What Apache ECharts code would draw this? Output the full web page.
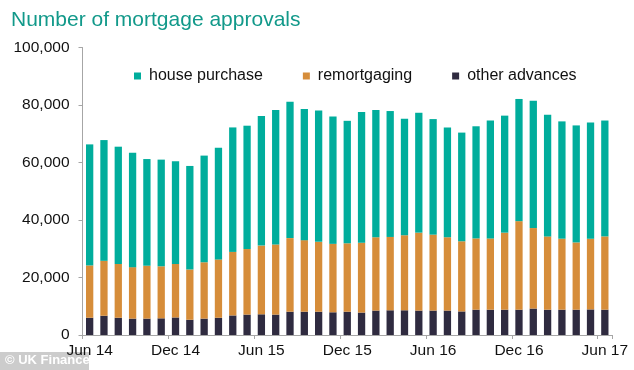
<!DOCTYPE html>
<html><head><meta charset="utf-8">
<script src="https://cdn.jsdelivr.net/npm/echarts@6/dist/echarts.min.js"></script>
<style>html,body{margin:0;padding:0;background:#fff}#c{width:634px;height:370px}</style>
</head><body><div id="c"></div>
<script>
var months = ['Jun 14','Jul 14','Aug 14','Sep 14','Oct 14','Nov 14','Dec 14','Jan 15','Feb 15','Mar 15','Apr 15','May 15',
 'Jun 15','Jul 15','Aug 15','Sep 15','Oct 15','Nov 15','Dec 15','Jan 16','Feb 16','Mar 16','Apr 16','May 16',
 'Jun 16','Jul 16','Aug 16','Sep 16','Oct 16','Nov 16','Dec 16','Jan 17','Feb 17','Mar 17','Apr 17','May 17','Jun 17'];
var otherAdvances = [6000,6700,6000,5700,5700,5800,6100,5300,5700,6000,6800,7100,7200,7100,8100,8100,8100,7900,8100,7800,8500,8600,8600,8500,8500,8500,8200,8800,8800,8800,8800,9200,8800,8800,8800,8900,8800];
var remortgaging = [18200,19100,18700,17900,18400,18100,18600,17500,19600,20300,22100,22800,23900,24400,25600,24900,24300,23800,23800,24300,25500,25500,26100,27100,26400,25500,24400,24800,24800,26800,30800,28000,25500,24700,23400,24600,25500];
var housePurchase = [42100,42000,40800,39800,37100,37100,35700,36000,37100,38800,43300,42900,45100,46800,47400,45600,45700,44300,42600,45500,44300,43800,40500,41700,40200,38200,37800,39000,41000,40700,42500,44300,42300,40800,40700,40400,40300];
var yTicks = [0,20000,40000,60000,80000,100000];
var titleText = 'Number of mortgage approvals';
var seriesNames = ['house purchase','remortgaging','other advances'];

var FONT = '"Liberation Sans", Arial, sans-serif';
var chart = echarts.init(document.getElementById('c'), null, {renderer:'canvas'});
function fmt(v){ return String(v).replace(/\B(?=(\d{3})+(?!\d))/g, ','); }
var colors = {house:'#00ad9c', remort:'#d68d3a', other:'#2f2b40'};
chart.setOption({
  animation:false,
  title:{text:titleText, left:6, top:5, textStyle:{fontFamily:FONT, fontSize:21, fontWeight:'normal', color:'#12998a'}},
  legend:{
    data:seriesNames, left:129, top:63, itemWidth:7, itemHeight:7, itemGap:40,
    icon:'rect',
    textStyle:{fontFamily:FONT, fontSize:16, color:'#111', padding:[0,0,0,3], lineHeight:16}
  },
  grid:{left:82.5, right:22, top:47.5, bottom:35, containLabel:false},
  xAxis:{
    type:'category', data:months, boundaryGap:true,
    axisLine:{lineStyle:{color:'#a6a6a6', width:1}},
    axisTick:{show:true, interval:5, length:4, lineStyle:{color:'#a6a6a6'}},
    axisLabel:{interval:5, fontFamily:FONT, fontSize:15.5, color:'#111', margin:8}
  },
  yAxis:{
    type:'value', min:0, max:100000, interval:20000,
    axisLine:{show:true, lineStyle:{color:'#a6a6a6'}},
    axisTick:{show:true, length:4, lineStyle:{color:'#a6a6a6'}},
    splitLine:{show:false},
    axisLabel:{formatter:function(v){return fmt(v);}, fontFamily:FONT, fontSize:15.5, color:'#111', margin:13}
  },
  series:[
    {name:seriesNames[2], type:'bar', stack:'a', data:otherAdvances, barWidth:'51%', itemStyle:{color:colors.other}},
    {name:seriesNames[1], type:'bar', stack:'a', data:remortgaging, barWidth:'51%', itemStyle:{color:colors.remort}},
    {name:seriesNames[0], type:'bar', stack:'a', data:housePurchase, barWidth:'51%', itemStyle:{color:colors.house}}
  ],
  graphic:[
    {type:'rect', left:0, top:352, shape:{width:89, height:18}, style:{fill:'rgba(170,170,170,0.6)'}},
    {type:'text', left:5, top:354, style:{text:'© UK Finance', fill:'#fff', font:'bold 13px ' + FONT}}
  ]
});
</script></body></html>
